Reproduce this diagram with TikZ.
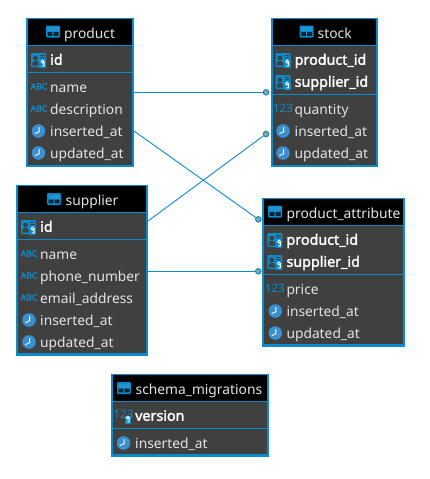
\documentclass[tikz,border=0pt]{standalone}
\usepackage{fontspec}
\setmainfont{Noto Sans}
\newfontfamily\erdbold{Noto Sans}[FakeBold=2]
\newfontfamily\erdsemi{Noto Sans}[FakeBold=2.5]
\usetikzlibrary{positioning}
\definecolor{erdblue}{HTML}{0A8BCB}
\definecolor{erdgrey}{HTML}{404040}
\definecolor{erdtext}{HTML}{E4E4E4}
\definecolor{erdclock}{HTML}{3A8FD0}
\definecolor{erddot}{HTML}{A0A0A0}
\tikzstyle{erdtable} = [rectangle, inner sep=0pt, draw=erdblue, line width=2.4pt, fill=erdgrey]
\tikzstyle{erdhead} = [rectangle, inner sep=0pt, fill=black]
\tikzstyle{row} = [inner sep=0pt, text width=112pt, align=left, text height=14pt, text depth=3.5pt, text=erdtext, font=\fontsize{13.8}{15}\selectfont]
\tikzstyle{keyrow} = [row, text=white, text height=13pt, font=\fontsize{14.3}{15}\erdbold]
\tikzstyle{title} = [inner sep=0pt, text height=15pt, text depth=3.5pt, text=erdtext, font=\fontsize{13.8}{15}\selectfont]
\tikzstyle{sepline} = [draw=erdblue, line width=1pt]
\tikzstyle{link} = [draw=erdblue, line width=.9pt]
\tikzstyle{enddot} = [circle, inner sep=0pt, minimum size=5.5pt, draw=erdblue, line width=1pt, fill=erddot]
\tikzset{
  tableicon/.pic={
    \fill [erdblue, rounded corners=1.2pt] (-7,-6) rectangle (7,6);
    \fill [black!75!erdblue] (-5.5,.5) rectangle (-.6,4.4) (.6,.5) rectangle (5.5,4.4);
    \fill [cyan!45!erdblue] (-5.5,-4.4) rectangle (5.5,-.5);
  },
  keyicon/.pic={
    \fill [erdblue, rounded corners=1pt] (-7.5,-7) rectangle (7.5,7);
    \fill [erdgrey] (-3,-2) circle (2.4);
    \fill [erdgrey] (-6.2,5.6) -- (-6.2,3.5) arc (180:360:3.2 and 2.8) -- (.2,5.6) -- cycle;
    \draw [erdgrey, line width=.8pt] (1.5,-4.5) -- (6,-4.5) (1.5,-2.2) -- (6,-2.2);
    \fill [erdblue] (.8,-.5) rectangle (7.5,7.8);
    \draw [white, line width=.9pt] (4.2,1.6) circle (1.5) (5.6,1.8) -- (5.6,5.8) -- (3.4,6);
  },
  texticon/.pic={
    \node (abc) [inner sep=0pt, text=erdblue, font=\fontsize{8.7}{8}\erdsemi] at (0,-.5) {ABC};
  },
  numicon/.pic={
    \node (num) [inner sep=0pt, text=erdblue, font=\fontsize{11.5}{10}\selectfont] at (0,-.5) {123};
  },
  numkeyicon/.pic={
    \node (num) [inner sep=0pt, text=erdblue, font=\fontsize{11.5}{10}\selectfont] at (-.5,-2) {123};
    \fill [erdblue] (.5,-.5) rectangle (7,8);
    \draw [white, line width=.9pt] (3.8,1.6) circle (1.5) (5.2,1.8) -- (5.2,5.8) -- (3,6);
  },
  clockicon/.pic={
    \fill [erdclock] (0,0) circle (6.8);
    \draw [white, line width=.9pt] (.6,-3.8) -- (.6,.8) -- (-3.6,2.6);
  }
}

\begin{document}
\begin{tikzpicture}[x=1pt, y=-1pt, node distance=22pt]
    \useasboundingbox (0,0) rectangle (429,479);
    % tables
    \node (product) [erdtable, minimum width=105.6pt, minimum height=146.6pt] at (80,92.5) {};
    \node (stock) [erdtable, minimum width=105.2pt, minimum height=146.6pt] at (324.3,92.5) {};
    \node (supplier) [erdtable, minimum width=129.6pt, minimum height=168.2pt] at (82,270.4) {};
    \node (attribute) [erdtable, minimum width=140.6pt, minimum height=146.2pt] at (333.5,272.5) {};
    \node (migrations) [erdtable, minimum width=155.6pt, minimum height=80.4pt] at (190,415.4) {};
    % headers
    \node (product_head) [erdhead, minimum width=103.2pt, minimum height=25.5pt] at (80,32) {};
    \node (stock_head) [erdhead, minimum width=102.8pt, minimum height=25.5pt] at (324.3,32) {};
    \node (supplier_head) [erdhead, minimum width=127.2pt, minimum height=25.5pt] at (82,199) {};
    \node (attribute_head) [erdhead, minimum width=138.2pt, minimum height=25.5pt] at (333.5,212) {};
    \node (migrations_head) [erdhead, minimum width=153.2pt, minimum height=25.5pt] at (190,388) {};
    % separators
    \draw [sepline] (product.west |- 0,45) -- (product.east |- 0,45);
    \draw [sepline] (product.west |- 0,72) -- (product.east |- 0,72);
    \draw [sepline] (stock.west |- 0,45) -- (stock.east |- 0,45);
    \draw [sepline] (stock.west |- 0,94) -- (stock.east |- 0,94);
    \draw [sepline] (supplier.west |- 0,212.5) -- (supplier.east |- 0,212.5);
    \draw [sepline] (supplier.west |- 0,239.5) -- (supplier.east |- 0,239.5);
    \draw [sepline] (attribute.west |- 0,225) -- (attribute.east |- 0,225);
    \draw [sepline] (attribute.west |- 0,274.5) -- (attribute.east |- 0,274.5);
    \draw [sepline] (migrations.west |- 0,401) -- (migrations.east |- 0,401);
    \draw [sepline] (migrations.west |- 0,428.5) -- (migrations.east |- 0,428.5);
    % titles
    \node (product_title) [title, anchor=west] at (64,32.5) {product};
    \node (stock_title) [title, anchor=west] at (317.5,32.5) {stock};
    \node (supplier_title) [title, anchor=west] at (65.5,199.5) {supplier};
    \node (attribute_title) [title, anchor=west] at (286.5,212.5) {product\_attribute};
    \node (migrations_title) [title, anchor=west] at (135.5,389) {schema\_migrations};
    \pic at (53,31.5) {tableicon};
    \pic at (306.5,31.5) {tableicon};
    \pic at (54,199) {tableicon};
    \pic at (275,211.5) {tableicon};
    \pic at (124,388) {tableicon};
    % product rows
    \node (product_id) [keyrow, anchor=west] at (50,60) {id};
    \node (product_name) [row, anchor=west] at (50,87) {name};
    \node (product_desc) [row, below of=product_name] {description};
    \node (product_ins) [row, below of=product_desc] {inserted\_at};
    \node (product_upd) [row, below of=product_ins] {updated\_at};
    \pic at ([xshift=-11.5pt]product_id.west) {keyicon};
    \pic at ([xshift=-11pt]product_name.west) {texticon};
    \pic at ([xshift=-11pt]product_desc.west) {texticon};
    \pic at ([xshift=-11.5pt]product_ins.west) {clockicon};
    \pic at ([xshift=-11.5pt]product_upd.west) {clockicon};
    % stock rows
    \node (stock_prod) [keyrow, anchor=west] at (294.5,60) {product\_id};
    \node (stock_supp) [keyrow, below of=stock_prod] {supplier\_id};
    \node (stock_qty) [row, anchor=west] at (294.5,109) {quantity};
    \node (stock_ins) [row, below of=stock_qty] {inserted\_at};
    \node (stock_upd) [row, below of=stock_ins] {updated\_at};
    \pic at ([xshift=-11.5pt]stock_prod.west) {keyicon};
    \pic at ([xshift=-11.5pt]stock_supp.west) {keyicon};
    \pic at ([xshift=-11.5pt]stock_qty.west) {numicon};
    \pic at ([xshift=-11.5pt]stock_ins.west) {clockicon};
    \pic at ([xshift=-11.5pt]stock_upd.west) {clockicon};
    % supplier rows
    \node (supplier_id) [keyrow, anchor=west] at (40,227) {id};
    \node (supplier_name) [row, anchor=west] at (40,254) {name};
    \node (supplier_phone) [row, below of=supplier_name] {phone\_number};
    \node (supplier_email) [row, below of=supplier_phone] {email\_address};
    \node (supplier_ins) [row, below of=supplier_email] {inserted\_at};
    \node (supplier_upd) [row, below of=supplier_ins] {updated\_at};
    \pic at ([xshift=-11.5pt]supplier_id.west) {keyicon};
    \pic at ([xshift=-11pt]supplier_name.west) {texticon};
    \pic at ([xshift=-11pt]supplier_phone.west) {texticon};
    \pic at ([xshift=-11pt]supplier_email.west) {texticon};
    \pic at ([xshift=-11pt]supplier_ins.west) {clockicon};
    \pic at ([xshift=-11pt]supplier_upd.west) {clockicon};
    % product_attribute rows
    \node (attribute_prod) [keyrow, anchor=west] at (286.3,240) {product\_id};
    \node (attribute_supp) [keyrow, below of=attribute_prod] {supplier\_id};
    \node (attribute_price) [row, anchor=west] at (286.3,289) {price};
    \node (attribute_ins) [row, below of=attribute_price] {inserted\_at};
    \node (attribute_upd) [row, below of=attribute_ins] {updated\_at};
    \pic at ([xshift=-11.5pt]attribute_prod.west) {keyicon};
    \pic at ([xshift=-11.5pt]attribute_supp.west) {keyicon};
    \pic at ([xshift=-11.5pt]attribute_price.west) {numicon};
    \pic at ([xshift=-11pt]attribute_ins.west) {clockicon};
    \pic at ([xshift=-11pt]attribute_upd.west) {clockicon};
    % schema_migrations rows
    \node (migrations_ver) [keyrow, anchor=west] at (135,416) {version};
    \node (migrations_ins) [row, anchor=west] at (135,443) {inserted\_at};
    \pic at ([xshift=-11pt]migrations_ver.west) {numkeyicon};
    \pic at ([xshift=-11.5pt]migrations_ins.west) {clockicon};
    % connectors
    \node (dot_stock_a) [enddot] at (266,92.3) {};
    \node (dot_stock_b) [enddot] at (266,134) {};
    \node (dot_attribute_a) [enddot] at (258.3,219.3) {};
    \node (dot_attribute_b) [enddot] at (258.3,271.3) {};
    \coordinate (out_product_a) at (product.east |- 0,92.3);
    \coordinate (out_product_b) at (product.east |- 0,131);
    \coordinate (out_supplier_a) at (supplier.east |- 0,221);
    \coordinate (out_supplier_b) at (supplier.east |- 0,271.3);
    \draw [link] (out_product_a) -- (dot_stock_a);
    \draw [link] (out_product_b) -- (dot_attribute_a);
    \draw [link] (out_supplier_a) -- (dot_stock_b);
    \draw [link] (out_supplier_b) -- (dot_attribute_b);
\end{tikzpicture}
\end{document}
